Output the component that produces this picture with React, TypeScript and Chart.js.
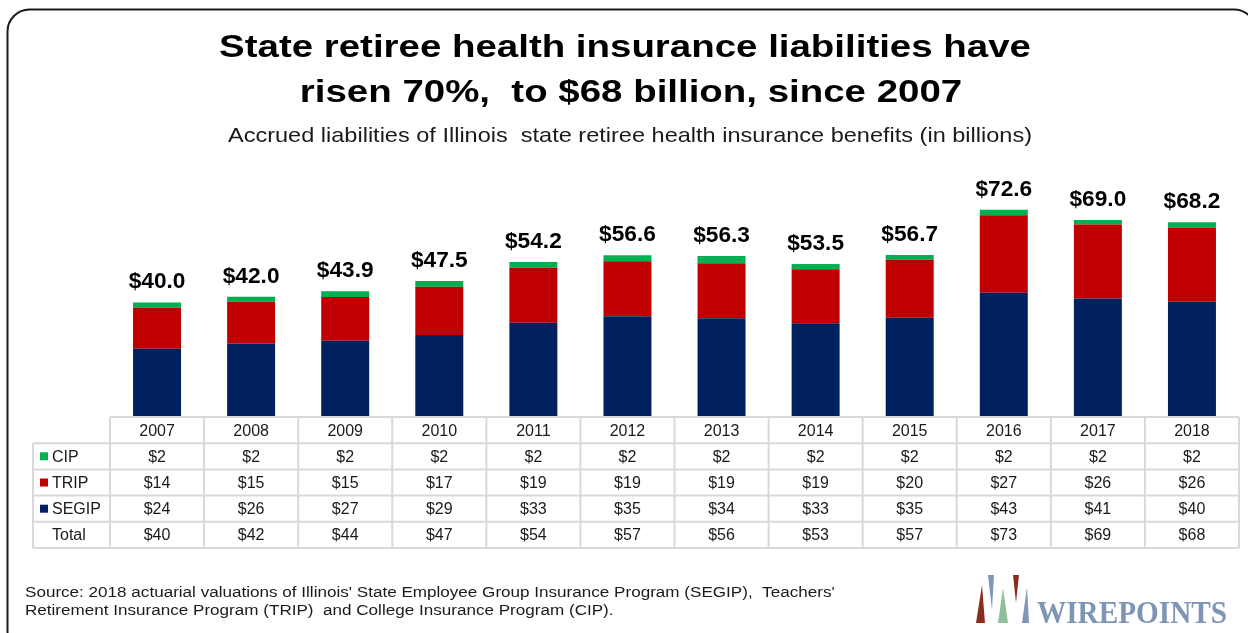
import React, { useEffect, useRef } from "react";
import { Chart, registerables } from "chart.js";

Chart.register(...registerables);

const years = ["2007", "2008", "2009", "2010", "2011", "2012", "2013", "2014", "2015", "2016", "2017", "2018"];
const segip = [23.7, 25.5, 26.5, 28.5, 32.8, 35.1, 34.4, 32.7, 34.6, 43.4, 41.4, 40.2];
const trip = [14.4, 14.7, 15.4, 17.0, 19.4, 19.4, 19.4, 19.0, 20.4, 27.3, 26.0, 26.2];
const cip = [1.9, 1.8, 2.0, 2.0, 2.0, 2.1, 2.5, 1.8, 1.7, 1.9, 1.6, 1.8];
const totalLabels = [40.0, 42.0, 43.9, 47.5, 54.2, 56.6, 56.3, 53.5, 56.7, 72.6, 69.0, 68.2];

const tableCIP = [2, 2, 2, 2, 2, 2, 2, 2, 2, 2, 2, 2];
const tableTRIP = [14, 15, 15, 17, 19, 19, 19, 19, 20, 27, 26, 26];
const tableSEGIP = [24, 26, 27, 29, 33, 35, 34, 33, 35, 43, 41, 40];
const tableTotal = [40, 42, 44, 47, 54, 57, 56, 53, 57, 73, 69, 68];

const titleLines = ["State retiree health insurance liabilities have", "risen 70%,  to $68 billion, since 2007"];
const subtitleText = "Accrued liabilities of Illinois  state retiree health insurance benefits (in billions)";
const sourceLines = [
  "Source: 2018 actuarial valuations of Illinois' State Employee Group Insurance Program (SEGIP),  Teachers'",
  "Retirement Insurance Program (TRIP)  and College Insurance Program (CIP).",
];
const logoText = "WIREPOINTS";

const COLORS = { segip: "#002060", trip: "#C00000", cip: "#00B050" };
const FONT = '"Liberation Sans", Arial, sans-serif';

// draws text stretched horizontally by sx; align: 'left' | 'center'
function stretchedText(ctx: any, text: string, x: number, y: number, sx: number, align: string) {
  ctx.save();
  ctx.translate(x, y);
  ctx.scale(sx, 1);
  ctx.textAlign = align;
  ctx.fillText(text, 0, 0);
  ctx.restore();
}

const framePlugin = {
  id: "frame",
  beforeDraw(chart: any) {
    const ctx = chart.ctx;
    ctx.save();
    ctx.fillStyle = "#ffffff";
    ctx.fillRect(0, 0, chart.width, chart.height);
    ctx.strokeStyle = "#1a1a1a";
    ctx.lineWidth = 2;
    ctx.beginPath();
    ctx.roundRect(7.5, 9.5, 1248.5, 644, 22);
    ctx.stroke();
    ctx.restore();
  },
};

const headerPlugin = {
  id: "header",
  afterDraw(chart: any) {
    const ctx = chart.ctx;
    ctx.save();
    ctx.fillStyle = "#000";
    ctx.textBaseline = "alphabetic";
    ctx.font = `bold 31px ${FONT}`;
    stretchedText(ctx, titleLines[0], 625, 57, 1.24, "center");
    stretchedText(ctx, titleLines[1], 631, 102, 1.24, "center");
    ctx.font = `21px ${FONT}`;
    ctx.fillStyle = "#1a1a1a";
    stretchedText(ctx, subtitleText, 630, 141.5, 1.12, "center");
    ctx.restore();
  },
};

const totalsPlugin = {
  id: "totals",
  afterDatasetsDraw(chart: any) {
    const ctx = chart.ctx;
    const meta = chart.getDatasetMeta(2);
    ctx.save();
    ctx.fillStyle = "#000";
    ctx.textAlign = "center";
    ctx.textBaseline = "alphabetic";
    ctx.font = `bold 22px ${FONT}`;
    meta.data.forEach((bar: any, i: number) => {
      stretchedText(ctx, "$" + totalLabels[i].toFixed(1), bar.x, bar.y - 14, 1.03, "center");
    });
    ctx.restore();
  },
};

const tablePlugin = {
  id: "dataTable",
  afterDraw(chart: any) {
    const ctx = chart.ctx;
    const xs = chart.scales.x;
    const area = chart.chartArea;
    const n = years.length;
    const colW = (area.right - area.left) / n;
    const top = area.bottom + 1;
    const rowH = 26.2;
    const labelLeft = 33;
    const rows = [
      { label: "CIP", color: COLORS.cip, vals: tableCIP },
      { label: "TRIP", color: COLORS.trip, vals: tableTRIP },
      { label: "SEGIP", color: COLORS.segip, vals: tableSEGIP },
      { label: "Total", color: null, vals: tableTotal },
    ];
    const bottom = top + rowH * 5;
    ctx.save();
    ctx.strokeStyle = "#d9d9d9";
    ctx.lineWidth = 2;
    ctx.beginPath();
    ctx.moveTo(area.left, top);
    ctx.lineTo(area.right, top);
    for (let r = 1; r <= 5; r++) {
      ctx.moveTo(labelLeft, top + rowH * r);
      ctx.lineTo(area.right, top + rowH * r);
    }
    ctx.moveTo(labelLeft, top + rowH);
    ctx.lineTo(labelLeft, bottom);
    for (let c = 0; c <= n; c++) {
      const x = area.left + colW * c;
      ctx.moveTo(x, top);
      ctx.lineTo(x, bottom);
    }
    ctx.stroke();

    ctx.fillStyle = "#1a1a1a";
    ctx.font = `16px ${FONT}`;
    ctx.textBaseline = "middle";
    ctx.textAlign = "center";
    years.forEach((y, i) => {
      ctx.fillText(y, xs.getPixelForValue(i), top + rowH / 2 + 1);
    });
    rows.forEach((row, r) => {
      const cy = top + rowH * (r + 1) + rowH / 2 + 1;
      ctx.textAlign = "center";
      ctx.fillStyle = "#1a1a1a";
      row.vals.forEach((v, i) => {
        ctx.fillText("$" + v, xs.getPixelForValue(i), cy);
      });
      if (row.color) {
        ctx.fillStyle = row.color;
        ctx.fillRect(40, cy - 5, 8, 8);
      }
      ctx.fillStyle = "#1a1a1a";
      ctx.textAlign = "left";
      ctx.fillText(row.label, 52, cy);
    });
    ctx.restore();
  },
};

const footerPlugin = {
  id: "footer",
  afterDraw(chart: any) {
    const ctx = chart.ctx;
    ctx.save();
    ctx.fillStyle = "#1a1a1a";
    ctx.textBaseline = "alphabetic";
    ctx.font = `14px ${FONT}`;
    stretchedText(ctx, sourceLines[0], 25, 597, 1.22, "left");
    stretchedText(ctx, sourceLines[1], 25, 615, 1.22, "left");

    // logo marks
    const tri = (pts: number[][], color: string) => {
      ctx.fillStyle = color;
      ctx.beginPath();
      ctx.moveTo(pts[0][0], pts[0][1]);
      for (let k = 1; k < pts.length; k++) ctx.lineTo(pts[k][0], pts[k][1]);
      ctx.closePath();
      ctx.fill();
    };
    tri([[982, 585], [985, 623], [976, 623]], "#8b2d1e");
    tri([[988, 575], [994, 575], [992, 610]], "#7f97b8");
    tri([[1003, 588], [1008, 623], [998, 623]], "#8fbf9a");
    tri([[1013, 575], [1019, 575], [1016, 603]], "#8b2d1e");
    tri([[1027, 587], [1029, 623], [1022, 623]], "#7f97b8");
    ctx.fillStyle = "#7f95b5";
    ctx.font = `bold 31px "Liberation Serif", "DejaVu Serif", serif`;
    const w = ctx.measureText(logoText).width;
    stretchedText(ctx, logoText, 1037, 623, 190 / w, "left");
    ctx.restore();
  },
};

export default function App() {
  const ref = useRef<HTMLCanvasElement | null>(null);
  useEffect(() => {
    if (!ref.current) return;
    const chart = new Chart(ref.current, {
      type: "bar",
      data: {
        labels: years,
        datasets: [
          { label: "SEGIP", data: segip, backgroundColor: COLORS.segip, borderWidth: 0 },
          { label: "TRIP", data: trip, backgroundColor: COLORS.trip, borderWidth: 0 },
          { label: "CIP", data: cip, backgroundColor: COLORS.cip, borderWidth: 0 },
        ],
      },
      options: {
        responsive: false,
        animation: false,
        devicePixelRatio: 1,
        layout: { padding: { left: 110, right: 9, top: 188.8, bottom: 217 } },
        datasets: { bar: { categoryPercentage: 1, barPercentage: 0.51 } },
        scales: {
          x: { stacked: true, display: false, grid: { display: false } },
          y: { stacked: true, display: false, min: 0, max: 80, grid: { display: false } },
        },
        plugins: {
          legend: { display: false },
          tooltip: { enabled: false },
          title: { display: false },
        },
      },
      plugins: [framePlugin, headerPlugin, totalsPlugin, tablePlugin, footerPlugin],
    });
    return () => chart.destroy();
  }, []);
  return (
    <div style={{ position: "fixed", left: 0, top: 0, width: 1248, height: 633, background: "#fff" }}>
      <canvas ref={ref} width={1248} height={633} style={{ display: "block" }} />
    </div>
  );
}
